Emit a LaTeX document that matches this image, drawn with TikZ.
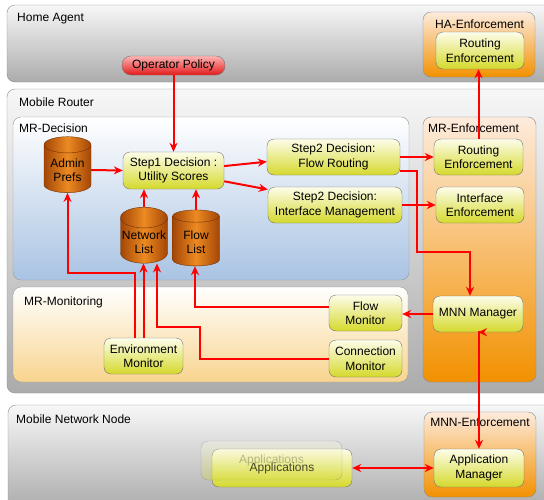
\documentclass[tikz,border=0pt]{standalone}
\usepackage{fontspec}
\setmainfont{Liberation Sans}
\usepackage{xcolor}
\usepackage{tikz}
\usetikzlibrary{calc}
\usetikzlibrary{arrows.meta,shapes.geometric}

\definecolor{panelTop}{HTML}{F7F7F7}
\definecolor{panelBot}{HTML}{ABABAB}
\definecolor{enfTop}{HTML}{FDEBDD}
\definecolor{enfBot}{HTML}{F29100}
\definecolor{decTop}{HTML}{FFFFFF}
\definecolor{decBot}{HTML}{A9C3E3}
\definecolor{monTop}{HTML}{FFFFFF}
\definecolor{monBot}{HTML}{F8D48E}
\definecolor{boxTop}{HTML}{FDFDEA}
\definecolor{boxBot}{HTML}{D5D92C}
\definecolor{pillTop}{HTML}{FFB4B4}
\definecolor{pillBot}{HTML}{E21A1A}
\definecolor{cylEdge}{HTML}{A34606}
\definecolor{cylMid}{HTML}{EC8A22}

\begin{document}
\begin{tikzpicture}[x=1pt,y=-1pt,
  every node/.append style={font=\fontsize{12}{14.5}\selectfont},
  panel/.style={draw=black!45,rounded corners=8pt,top color=panelTop,bottom color=panelBot},
  enfpanel/.style={draw=black!45,rounded corners=8pt,top color=enfTop,bottom color=enfBot},
  decpanel/.style={draw=black!40,rounded corners=8pt,top color=decTop,bottom color=decBot},
  monpanel/.style={draw=black!40,rounded corners=8pt,top color=monTop,bottom color=monBot},
  lbl/.style={anchor=base west,inner sep=0pt},
  box/.style={draw=black!55,rounded corners=7pt,top color=boxTop,bottom color=boxBot,align=center,inner sep=1pt},
  pill/.style={draw=black!55,rounded corners=9pt,top color=pillTop,bottom color=pillBot,inner sep=0pt},
  store/.style={cylinder,shape border rotate=90,aspect=0.45,draw=cylEdge!70!black,left color=cylEdge,right color=cylEdge,middle color=cylMid,align=center,minimum width=47pt,minimum height=56pt,inner sep=1pt},
  conn/.style={draw=red,line width=2pt,-{Stealth[length=9pt,width=8pt]}},
  conn2/.style={draw=red,line width=2pt,{Stealth[length=9pt,width=8pt]}-{Stealth[length=9pt,width=8pt]}}]
\useasboundingbox (0,0) rectangle (544,499);
\clip (0,0) rectangle (544,499);
\fill[white] (0,0) rectangle (544,499);

% Home Agent
\draw[panel] (7,5) rectangle (560,82);
\node[lbl] (halbl) at (17,21.5) {Home Agent};
\draw[enfpanel] (423,12) rectangle (535,77);
\node[lbl,anchor=base] (haenflbl) at (479.5,28) {HA-Enforcement};
\node[box,minimum width=88pt,minimum height=37pt] (haroute) at (480,50.5) {Routing\\Enforcement};
\node[pill,minimum width=103pt,minimum height=19pt] (oppol) at (173.5,65.5) {Operator Policy};

% Mobile Router
\draw[panel] (7,89) rectangle (560,393);
\node[lbl] (mrlbl) at (19,106) {Mobile Router};

% MR-Decision
\draw[decpanel] (13,117) rectangle (409,280);
\node[lbl] (declbl) at (19,132) {MR-Decision};
\node[store] (admin) at (67.5,170) {Admin\\Prefs};
\node[store] (netlist) at (144,242) {Network\\List};
\node[store] (flowlist) at (196,242) {Flow\\List};
\node[box,minimum width=101pt,minimum height=37pt] (step1) at (173.5,170.5) {Step1 Decision :\\Utility Scores};
\node[box,minimum width=133pt,minimum height=36pt] (flowrt) at (333.5,157) {Step2 Decision:\\Flow Routing};
\node[box,minimum width=134pt,minimum height=36pt] (ifmgmt) at (335,205) {Step2 Decision:\\Interface Management};

% MR-Monitoring
\draw[monpanel] (13,287) rectangle (408,382);
\node[lbl] (monlbl) at (24,305) {MR-Monitoring};
\node[box,minimum width=73pt,minimum height=36pt] (flowmon) at (365.5,313) {Flow\\Monitor};
\node[box,minimum width=73pt,minimum height=37pt] (connmon) at (365.5,358.5) {Connection\\Monitor};
\node[box,minimum width=79pt,minimum height=36pt] (envmon) at (143.5,356) {Environment\\Monitor};

% MR-Enforcement
\draw[enfpanel] (423,117) rectangle (536,382);
\node[lbl] (mrenflbl) at (428,132) {MR-Enforcement};
\node[box,minimum width=89pt,minimum height=36pt] (mrroute) at (478.5,157) {Routing\\Enforcement};
\node[box,minimum width=88pt,minimum height=36pt] (ifenf) at (480,205) {Interface\\Enforcement};
\node[box,minimum width=90pt,minimum height=36pt] (mnnmgr) at (478,314) {MNN Manager};

% Mobile Network Node
\draw[panel] (8,405) rectangle (560,510);
\node[lbl] (mnnlbl) at (16,423) {Mobile Network Node};
\draw[enfpanel] (424,412) rectangle (536,497);
\node[lbl,anchor=base] (mnnenflbl) at (480,426) {MNN-Enforcement};
\node[box,minimum width=90pt,minimum height=38pt] (appmgr) at (479,468) {Application\\Manager};
\node[box,minimum width=140pt,minimum height=38pt] (apps) at (282,468) {Applications};
\node[box,fill opacity=0.3,draw opacity=0.45,text opacity=0.25,minimum width=141pt,minimum height=39pt] (appsback) at (271.5,460.5) {Applications};

% Connectors
\draw[conn] (oppol.south) -- (step1.north);
\draw[conn] (admin.east) -- (step1.west);
\draw[conn] (netlist.north) -- (netlist.north |- step1.south);
\draw[conn] (flowlist.north) -- (flowlist.north |- step1.south);
\draw[conn] (step1.5) -- (flowrt.184);
\draw[conn] (step1.-12) -- (ifmgmt.167);
\draw[conn] (flowrt.east) -- (mrroute.west);
\draw[conn] (ifmgmt.east) -- (ifenf.west);
\draw[conn] (mrroute.north) -- (mrroute.north |- haroute.south);
\coordinate (fr1) at (417,252);
\draw[conn] ([yshift=-14pt]flowrt.east) -| (fr1) -| ([xshift=-8pt]mnnmgr.north);
\draw[conn] (mnnmgr.west) -- (mnnmgr.west -| flowmon.east);
\draw[conn2] (mnnmgr.south) -- (mnnmgr.south -| appmgr.north) -- (appmgr.north);
\draw[conn2] (apps.east) -- (appmgr.west);
\draw[conn] ([xshift=-8.5pt]envmon.north) -- ++(0,-65) -| (admin.south);
\draw[conn] (envmon.north) -- (envmon.north |- netlist.south);
\coordinate (cm1) at (200,327);
\draw[conn] (connmon.west) -| (cm1) -| ([xshift=13pt]netlist.south);
\draw[conn] ([yshift=6pt]flowmon.west) -| ([xshift=-1pt]flowlist.south);
\end{tikzpicture}
\end{document}
